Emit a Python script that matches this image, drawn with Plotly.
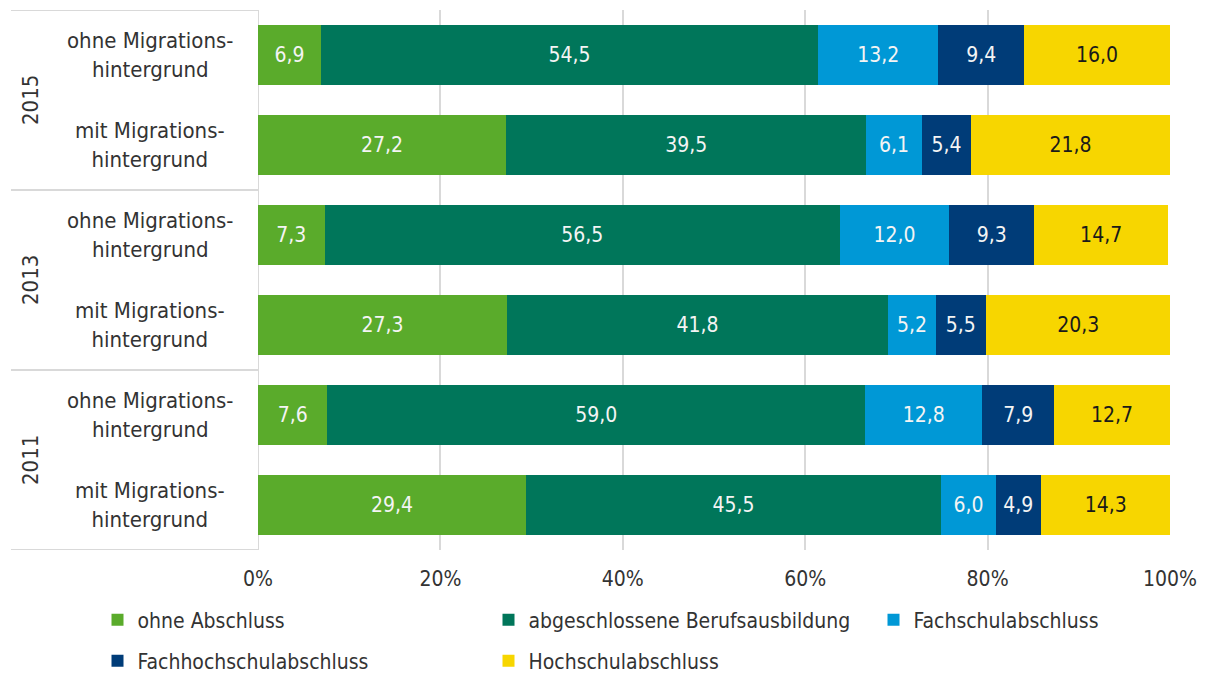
import plotly.graph_objects as go

years = ["2015", "2013", "2011"]
groups = ["ohne Migrations-<br>hintergrund", "mit Migrations-<br>hintergrund"]
# rows top to bottom: 2015 ohne, 2015 mit, 2013 ohne, 2013 mit, 2011 ohne, 2011 mit
row_labels = [g for y in years for g in groups]

series_names = ["ohne Abschluss", "abgeschlossene Berufsausbildung", "Fachschulabschluss",
                "Fachhochschulabschluss", "Hochschulabschluss"]
ohne_abschluss = [6.9, 27.2, 7.3, 27.3, 7.6, 29.4]
berufsausbildung = [54.5, 39.5, 56.5, 41.8, 59.0, 45.5]
fachschul = [13.2, 6.1, 12.0, 5.2, 12.8, 6.0]
fachhochschul = [9.4, 5.4, 9.3, 5.5, 7.9, 4.9]
hochschul = [16.0, 21.8, 14.7, 20.3, 12.7, 14.3]
series_values = [ohne_abschluss, berufsausbildung, fachschul, fachhochschul, hochschul]

colors = ["#5aab2b", "#00765a", "#0098d6", "#003c78", "#f7d600"]
text_colors = ["#f4f4f4", "#f4f4f4", "#f4f4f4", "#f4f4f4", "#1a1a1a"]
tick_vals = [0, 20, 40, 60, 80, 100]
tick_text = ["0%", "20%", "40%", "60%", "80%", "100%"]

FONT = "DejaVu Sans Condensed, Liberation Sans Narrow, Roboto, sans-serif"

# figure geometry (page has 8px body margin)
W, H = 1200, 665
ML, MT, PW, PH = 250, 2, 912, 540

n = len(row_labels)
ypos = [n - 1 - i for i in range(n)]

# legend marker centres (page px) -> one legend per entry
legend_pos = [(117, 620), (508, 620), (893, 620), (117, 661), (508, 661)]
legend_ids = ["legend", "legend2", "legend3", "legend4", "legend5"]

fig = go.Figure()
for k, (name, vals) in enumerate(zip(series_names, series_values)):
    fig.add_trace(go.Bar(
        y=ypos, x=vals, name=name, orientation="h",
        marker=dict(color=colors[k], line=dict(width=0)),
        text=[f"{v:.1f}".replace(".", ",") for v in vals],
        textposition="inside", insidetextanchor="middle",
        textfont=dict(color=text_colors[k], size=21, family=FONT),
        width=0.667,
        legend=legend_ids[k],
        showlegend=True,
        hoverinfo="skip",
    ))

layout_legends = {}
for lid, (px, py) in zip(legend_ids, legend_pos):
    fx = px - 8 - 19.5  # legend box left in figure px
    fy = py - 8
    layout_legends[lid] = dict(
        orientation="h", xanchor="left", yanchor="middle",
        x=(fx - ML) / PW, y=(MT + PH - fy) / PH,
        font=dict(size=21, color="#333333", family=FONT),
        bgcolor="rgba(0,0,0,0)",
    )

fig.update_layout(
    barmode="stack",
    width=W, height=H,
    showlegend=True,
    margin=dict(l=ML, r=W - ML - PW, t=MT, b=H - MT - PH, autoexpand=False),
    plot_bgcolor="white", paper_bgcolor="white",
    font=dict(family=FONT, size=21, color="#333333"),
    uniformtext=dict(mode="show", minsize=10),
    xaxis=dict(range=[0, 100], tickvals=tick_vals, ticktext=tick_text,
               showgrid=True, gridcolor="#d9d9d9", gridwidth=2,
               zeroline=False, showline=False, ticks="outside", ticklen=10,
               tickcolor="rgba(0,0,0,0)",
               tickfont=dict(size=21, color="#333333")),
    yaxis=dict(range=[-0.5, n - 0.5], showticklabels=False, showgrid=False,
               zeroline=False, showline=False),
    **layout_legends,
)

# left axis line
fig.add_shape(type="line", xref="x", yref="y", x0=0, x1=0, y0=-0.5, y1=n - 0.5,
              line=dict(color="#d9d9d9", width=2), layer="below")
# group separators
for b in [n - 0.5, 3.5, 1.5, -0.5]:
    fig.add_shape(type="line", xref="paper", yref="y", x0=(3 - ML) / PW, x1=0, y0=b, y1=b,
                  line=dict(color="#d9d9d9", width=2))

# category labels
for yp, lab in zip(ypos, row_labels):
    fig.add_annotation(xref="paper", yref="y", x=(142 - ML) / PW, y=yp, text=lab,
                       showarrow=False, align="center", xanchor="center", yanchor="middle",
                       font=dict(size=22, color="#333333"))
# year labels
for i, yr in enumerate(years):
    yc = n - 1.5 - 2 * i
    fig.add_annotation(xref="paper", yref="y", x=(22 - ML) / PW, y=yc, text=yr,
                       showarrow=False, textangle=-90, xanchor="center", yanchor="middle",
                       font=dict(size=22, color="#333333"))

fig.write_html("out.html")
